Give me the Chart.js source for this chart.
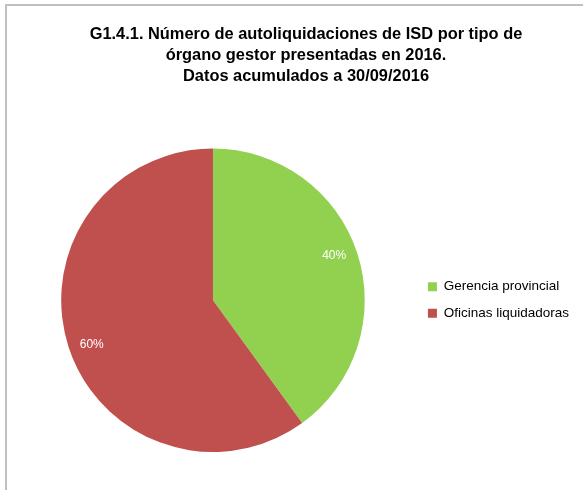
<!DOCTYPE html>
<html>
<head>
<meta charset="utf-8">
<script src="https://cdn.jsdelivr.net/npm/chart.js@4.4.1/dist/chart.umd.min.js"></script>
<style>
  html, body { margin: 0; padding: 0; background: #fff; }
  #frame {
    position: absolute; left: 5px; top: 4px; width: 578px; height: 486px;
    border-left: 2px solid #c0c0c0; border-top: 2px solid #c0c0c0;
  }
  #wrap { position: absolute; left: 0; top: 0; width: 583px; height: 490px; }
</style>
</head>
<body>
<div id="frame"></div>
<div id="wrap"><canvas id="chart" width="583" height="490"></canvas></div>
<script>
const titleLines = [
  "G1.4.1. Número de autoliquidaciones de ISD por tipo de",
  "órgano gestor presentadas en 2016.",
  "Datos acumulados a 30/09/2016",
];
const categories = ["Gerencia provincial", "Oficinas liquidadoras"];
const shares = [40, 60];
const sliceColors = ["#92d050", "#c0504d"];

// percentage labels inside the slices
const sliceLabels = {
  id: "sliceLabels",
  afterDatasetsDraw: (chart) => {
    const { ctx } = chart;
    const meta = chart.getDatasetMeta(0);
    ctx.save();
    ctx.fillStyle = "#ffffff";
    ctx.font = "12px 'Liberation Sans'";
    ctx.textAlign = "center";
    ctx.textBaseline = "middle";
    meta.data.forEach((arc, i) => {
      const p = arc.getProps(["x", "y", "startAngle", "endAngle", "outerRadius"], true);
      const mid = (p.startAngle + p.endAngle) / 2;
      const r = p.outerRadius * 0.84;
      ctx.fillText(shares[i] + "%", p.x + Math.cos(mid) * r, p.y + Math.sin(mid) * r * 1.12);
    });
    ctx.restore();
  },
};

// title sits right of centre and legend sits level with the pie centre in the original
const nudgeBoxes = {
  id: "nudgeBoxes",
  afterLayout: (chart) => {
    if (chart.titleBlock) {
      chart.titleBlock.left += 11;
      chart.titleBlock.right += 11;
    }
    if (chart.legend) {
      chart.legend.top += 74;
      chart.legend.bottom += 74;
    }
  },
};

new Chart(document.querySelector("#chart"), {
  type: "pie",
  data: {
    labels: categories,
    datasets: [
      {
        data: shares,
        backgroundColor: sliceColors,
        borderWidth: 0,
      },
    ],
  },
  options: {
    responsive: false,
    animation: false,
    layout: { padding: { top: 0, left: 11, right: 4, bottom: 38 } },
    plugins: {
      title: {
        display: true,
        text: titleLines,
        color: "#000",
        font: { family: "'Liberation Sans'", size: 16.4, weight: "bold", lineHeight: 1.27 },
        padding: { top: 24, bottom: 62 },
      },
      legend: {
        position: "right",
        labels: {
          boxWidth: 9,
          boxHeight: 9,
          padding: 13,
          color: "#000",
          font: { family: "'Liberation Sans'", size: 13.5 },
        },
      },
      tooltip: { enabled: false },
    },
  },
  plugins: [sliceLabels, nudgeBoxes],
});
</script>
</body>
</html>
